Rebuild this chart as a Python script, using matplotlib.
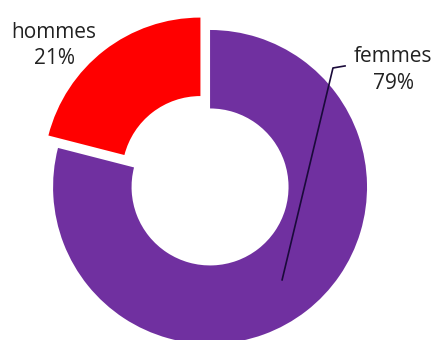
import matplotlib.pyplot as plt

# Répartition par sexe
categories = ['femmes', 'hommes']
parts = [79, 21]
couleurs = ['#7030A0', '#FF0000']
ecarts = [0, 0.1]

fig = plt.figure(figsize=(4.38, 3.40), dpi=100)
ax = fig.add_axes([0, 0, 1, 1])

ax.pie(parts, colors=couleurs, explode=ecarts, startangle=90, counterclock=False,
       radius=1, wedgeprops=dict(width=0.5, linewidth=0))

ax.set_xlim(-1.338, 1.452)
ax.set_ylim(-0.975, 1.191)
ax.set_aspect('equal')
ax.axis('off')

font = dict(family='Open Sans', fontsize=15, color='#222222',
            ha='center', va='center', linespacing=1.35)

# étiquettes
ax.text(-0.994, 0.90, f'{categories[1]}\n{parts[1]}%', **font)
ax.text(1.166, 0.745, f'{categories[0]}\n{parts[0]}%', **font)

# trait de rappel vers le secteur femmes
ax.plot([0.459, 0.783, 0.860], [-0.592, 0.758, 0.771], color='#1a0a3a', lw=1.2)

fig.savefig('out.png', dpi=100)
